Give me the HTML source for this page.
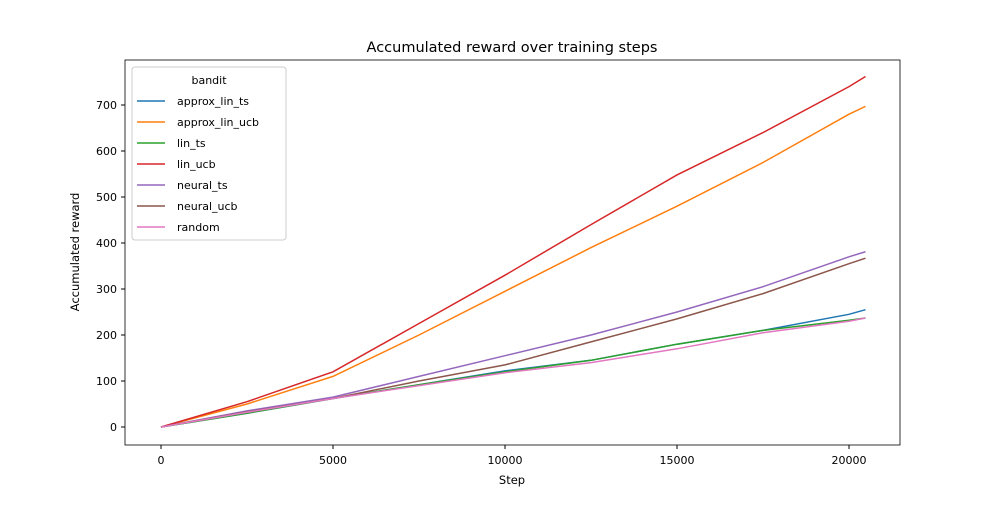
<!DOCTYPE html>
<html><head><meta charset="utf-8"><style>
body{margin:0;background:#fff;font-family:"Liberation Sans","DejaVu Sans",sans-serif;}
svg text{font-family:"DejaVu Sans","Liberation Sans",sans-serif;}
</style></head><body>
<svg id="chart" width="1000" height="500" viewBox="0 0 1000 500" xmlns="http://www.w3.org/2000/svg">
<rect width="1000" height="500" fill="#fff"/>
<text x="512" y="52" text-anchor="middle" font-size="14.5">Accumulated reward over training steps</text>
<g id="lines"></g>
<rect x="125" y="60" width="775" height="385" fill="none" stroke="#000" stroke-width="0.8"/>
<g id="axes"></g>
<text x="512" y="484" text-anchor="middle" font-size="11.5">Step</text>
<text transform="translate(79,252) rotate(-90)" text-anchor="middle" font-size="11.5">Accumulated reward</text>
<g id="legend"></g>
</svg>
<script>
const steps=[0,2500,5000,7500,10000,12500,15000,17500,20000,20480];
const seriesNames=["approx_lin_ts","approx_lin_ucb","lin_ts","lin_ucb","neural_ts","neural_ucb","random"];
const approxLinTs=[0,30,62,92,122,145,180,210,245,255];
const approxLinUcb=[0,50,110,200,295,390,480,575,680,697];
const linTs=[0,30,62,92,120,145,180,210,232,237];
const linUcb=[0,55,120,225,330,440,548,640,740,762];
const neuralTs=[0,35,65,110,155,200,250,305,370,381];
const neuralUcb=[0,33,62,100,135,185,235,290,355,367];
const randomVals=[0,32,62,90,118,140,170,205,230,237];
const xTicks=[0,5000,10000,15000,20000];
const yTicks=[0,100,200,300,400,500,600,700];
const colors=["#1f77b4","#ff7f0e","#2ca02c","#d62728","#9467bd","#8c564b","#e377c2"];
const allSeries=[approxLinTs,approxLinUcb,linTs,linUcb,neuralTs,neuralUcb,randomVals];
const NS="http://www.w3.org/2000/svg";
const xs=v=>161+v*(688/20000);
const ys=v=>427-v*0.46;
const lines=document.getElementById('lines');
allSeries.forEach((s,i)=>{
 const p=document.createElementNS(NS,'polyline');
 
 
 p.setAttribute('points',s.map((v,j)=>xs(steps[j])+','+ys(v)).join(' '));
 p.setAttribute('fill','none');p.setAttribute('stroke',colors[i]);p.setAttribute('stroke-width','1.5');
 lines.appendChild(p);
});
const axes=document.getElementById('axes');
xTicks.forEach(t=>{
 const l=document.createElementNS(NS,'line');
 
 
 l.setAttribute('x1',xs(t));l.setAttribute('x2',xs(t));l.setAttribute('y1',445);l.setAttribute('y2',449);l.setAttribute('stroke','#000');
 axes.appendChild(l);
 const tx=document.createElementNS(NS,'text');
 
 
 tx.setAttribute('x',xs(t));tx.setAttribute('y',464);tx.setAttribute('text-anchor','middle');tx.setAttribute('font-size','11');
 tx.textContent=t;axes.appendChild(tx);
});
yTicks.forEach(t=>{
 const l=document.createElementNS(NS,'line');
 
 
 l.setAttribute('x1',121);l.setAttribute('x2',125);l.setAttribute('y1',ys(t));l.setAttribute('y2',ys(t));l.setAttribute('stroke','#000');
 axes.appendChild(l);
 const tx=document.createElementNS(NS,'text');
 
 
 tx.setAttribute('x',117);tx.setAttribute('y',ys(t)+4);tx.setAttribute('text-anchor','end');tx.setAttribute('font-size','11');
 tx.textContent=t;axes.appendChild(tx);
});
const lg=document.getElementById('legend');
const box=document.createElementNS(NS,'rect');


box.setAttribute('x',132);box.setAttribute('y',67);box.setAttribute('width',154);box.setAttribute('height',173);box.setAttribute('rx',3);
box.setAttribute('fill','#fff');box.setAttribute('fill-opacity','0.8');box.setAttribute('stroke','#ccc');
lg.appendChild(box);
const lt=document.createElementNS(NS,'text');


lt.setAttribute('x',209);lt.setAttribute('y',84);lt.setAttribute('text-anchor','middle');lt.setAttribute('font-size','11');
lt.textContent='bandit';lg.appendChild(lt);
seriesNames.forEach((n,i)=>{
 const y=101+i*21;
 const l=document.createElementNS(NS,'line');
 
 
 l.setAttribute('x1',137);l.setAttribute('x2',165);l.setAttribute('y1',y);l.setAttribute('y2',y);l.setAttribute('stroke',colors[i]);l.setAttribute('stroke-width','1.5');
 lg.appendChild(l);
 const t=document.createElementNS(NS,'text');
 
 
 t.setAttribute('x',177);t.setAttribute('y',y+4);t.setAttribute('font-size','11');
 t.textContent=n;lg.appendChild(t);
});
</script>
</body></html>
